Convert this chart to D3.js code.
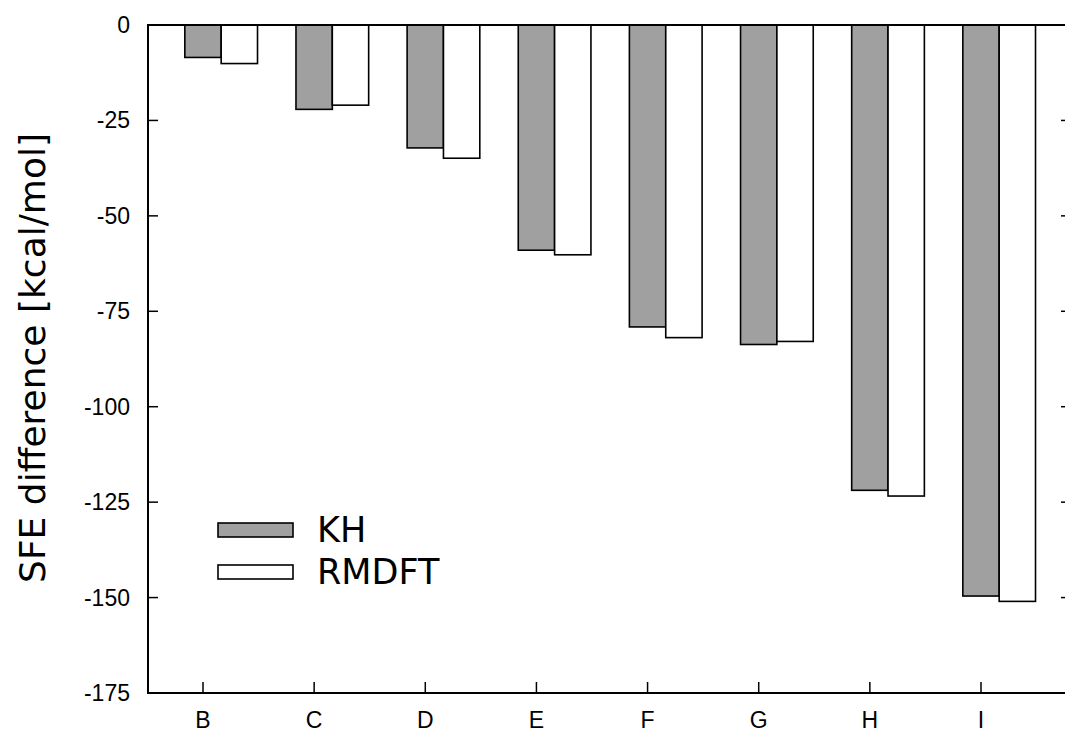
<!DOCTYPE html>
<html>
<head>
<meta charset="utf-8">
<script src="https://cdn.jsdelivr.net/npm/d3@7"></script>
<style>
  body { margin: 0; background: #fff; }
  svg { display: block; }
</style>
</head>
<body>
<svg width="1065" height="734"></svg>
<script>
const categories = ["B", "C", "D", "E", "F", "G", "H", "I"];
const khValues = [-8.5, -22.1, -32.2, -59.0, -79.1, -83.7, -121.9, -149.6];
const rmdftValues = [-10.1, -21.0, -34.9, -60.2, -81.9, -82.9, -123.4, -151.0];
const yTicks = [0, -25, -50, -75, -100, -125, -150, -175];
const seriesNames = ["KH", "RMDFT"];
const seriesFills = ["#a0a0a0", "#ffffff"];

const svg = d3.select("svg");
const plotLeft = 148, plotRight = 1071, plotTop = 25, plotBottom = 693;

// category index -> pixel, KH bar sits centred on the tick
const x = d3.scaleLinear().domain([1, 8]).range([203, 981]);
const y = d3.scaleLinear().domain([0, -175]).range([plotTop, plotBottom]);
const barW = 0.327; // in category units

const data = categories.map((c, i) => ({ cat: c, idx: i + 1, vals: [khValues[i], rmdftValues[i]] }));

// bars
const groups = svg.append("g").selectAll("g")
    .data(data).enter().append("g");

groups.selectAll("rect")
    .data(d => d.vals.map((v, k) => ({ idx: d.idx, v: v, k: k })))
    .enter().append("rect")
    .attr("x", d => x(d.idx - barW / 2 + d.k * barW))
    .attr("y", y(0))
    .attr("width", x(1 + barW) - x(1))
    .attr("height", d => y(d.v) - y(0))
    .attr("fill", d => seriesFills[d.k])
    .attr("stroke", "#000")
    .attr("stroke-width", 1.6);

// frame
svg.append("rect")
    .attr("x", plotLeft).attr("y", plotTop)
    .attr("width", plotRight - plotLeft).attr("height", plotBottom - plotTop)
    .attr("fill", "none")
    .attr("stroke", "#000")
    .attr("stroke-width", 2);

// y ticks, both sides pointing inward
svg.append("g").selectAll("line")
    .data(yTicks).enter().append("line")
    .attr("x1", plotLeft).attr("x2", plotLeft + 10)
    .attr("y1", d => y(d)).attr("y2", d => y(d))
    .attr("stroke", "#000").attr("stroke-width", 1.5);

svg.append("g").selectAll("line")
    .data(yTicks).enter().append("line")
    .attr("x1", plotRight).attr("x2", plotRight - 10)
    .attr("y1", d => y(d)).attr("y2", d => y(d))
    .attr("stroke", "#000").attr("stroke-width", 1.5);

svg.append("g").selectAll("text")
    .data(yTicks).enter().append("text")
    .attr("x", 130)
    .attr("y", d => y(d) + 8)
    .attr("text-anchor", "end")
    .style("font-family", "'Liberation Sans', Arial, sans-serif")
    .style("font-size", "23px")
    .text(d => d);

// x ticks
svg.append("g").selectAll("line")
    .data(data).enter().append("line")
    .attr("x1", d => x(d.idx)).attr("x2", d => x(d.idx))
    .attr("y1", plotBottom).attr("y2", plotBottom - 11)
    .attr("stroke", "#000").attr("stroke-width", 1.5);

svg.append("g").selectAll("text")
    .data(data).enter().append("text")
    .attr("x", d => x(d.idx))
    .attr("y", 728)
    .attr("text-anchor", "middle")
    .style("font-family", "'Liberation Sans', Arial, sans-serif")
    .style("font-size", "23px")
    .text(d => d.cat);

// y title
svg.append("text")
    .attr("transform", "translate(45,358) rotate(-90)")
    .attr("text-anchor", "middle")
    .style("font-family", "'DejaVu Sans', sans-serif")
    .style("font-size", "36px")
    .text("SFE difference [kcal/mol]");

// legend
const legend = svg.append("g").selectAll("g")
    .data(seriesNames).enter().append("g")
    .attr("transform", (d, i) => `translate(218, ${523 + i * 42})`);

legend.append("rect")
    .attr("width", 75).attr("height", 14)
    .attr("fill", (d, i) => seriesFills[i])
    .attr("stroke", "#000")
    .attr("stroke-width", 1.6);

legend.append("text")
    .attr("x", 99)
    .attr("y", 19)
    .style("font-family", "'DejaVu Sans', sans-serif")
    .style("font-size", "35px")
    .text(d => d);
</script>
</body>
</html>
